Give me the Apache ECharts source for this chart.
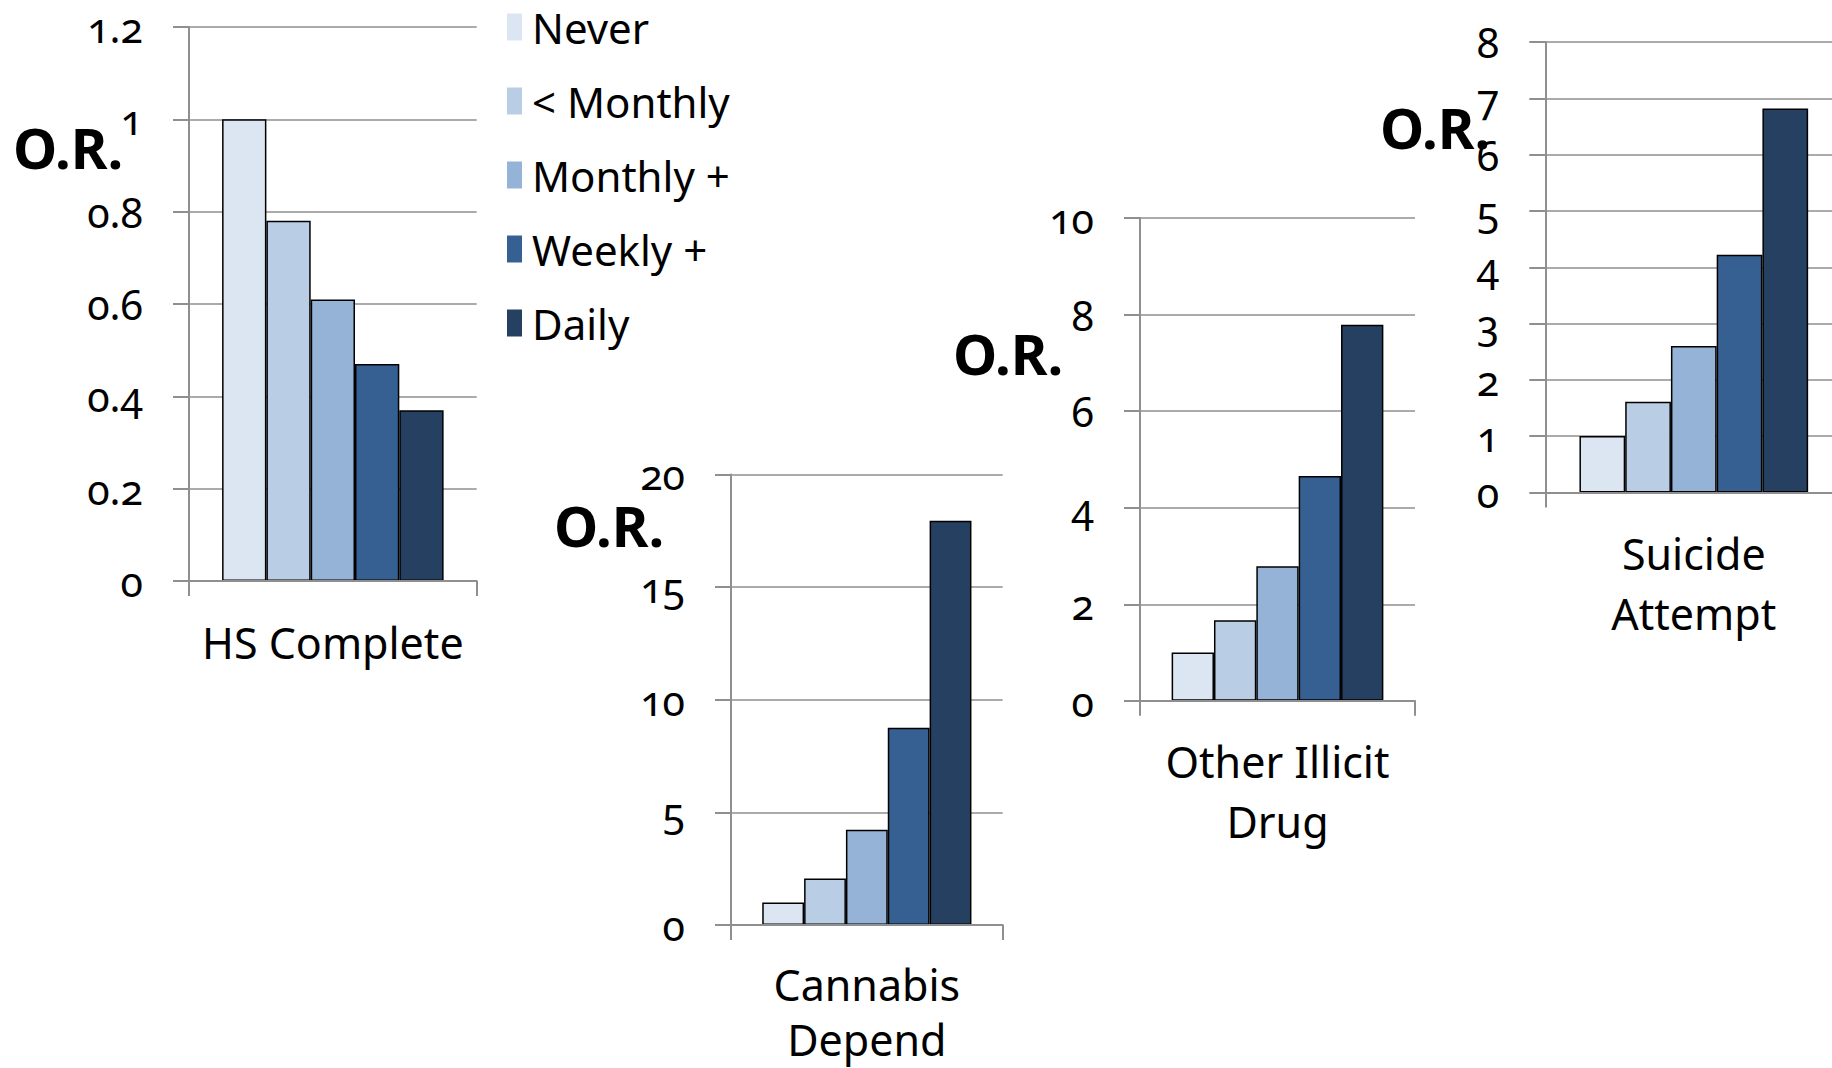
<!DOCTYPE html>
<html><head><meta charset="utf-8">
<script src="https://cdn.jsdelivr.net/npm/echarts@6/dist/echarts.min.js"></script>
<style>
html,body{margin:0;padding:0;background:#fff;}
#chart{width:1832px;height:1068px;}
#chart text{font-variant-numeric:oldstyle-nums !important;font-feature-settings:"onum" 1 !important;}
</style></head><body><div id="chart"></div>
<script>
// ---- data ----
const levels = ['Never', '< Monthly', 'Monthly +', 'Weekly +', 'Daily'];
const outcomes = ['HS Complete', 'Cannabis\nDepend', 'Other Illicit\nDrug', 'Suicide\nAttempt'];
const hsComplete = [1, 0.78, 0.61, 0.47, 0.37];
const cannabisDepend = [1, 2.06, 4.23, 8.75, 17.94];
const otherIllicitDrug = [1, 1.67, 2.79, 4.66, 7.79];
const suicideAttempt = [1, 1.61, 2.6, 4.22, 6.82];
const axisMax = [1.2, 20, 10, 8];
const axisStep = [0.2, 5, 2, 1];
const yTitle = 'O.R.';

// ---- style / layout ----
const FONT = '"Noto Sans", "Open Sans", sans-serif';
const colors = ['#DCE6F2', '#B9CDE5', '#95B3D7', '#376092', '#254061'];
const panelValues = [hsComplete, cannabisDepend, otherIllicitDrug, suicideAttempt];
const gridBoxes = [
  {left: 189, top: 26.9, width: 287.7, height: 554.2},
  {left: 731, top: 474.4, width: 271.7, height: 450.6},
  {left: 1140, top: 218.2, width: 275, height: 482.6},
  {left: 1545.3, top: 42.1, width: 297, height: 450.3}
];
const labelMargins = [31, 31.5, 31, 31];
const labelLineHeights = [60, 55, 60, 60];
const titlePos = [[13, 147], [554, 525], [953, 353], [1380, 127]];
const GRID_COLOR = '#8f8f8f';

const chart = echarts.init(document.getElementById('chart'), null, {renderer: 'svg'});

const grid = gridBoxes.map(b => Object.assign({containLabel: false, outerBoundsMode: 'none'}, b));
const xAxis = outcomes.map((o, p) => ({
  type: 'category', gridIndex: p, data: [o], z: 3,
  axisLine: {show: true, lineStyle: {color: GRID_COLOR, width: 2}},
  axisTick: {show: true, length: 15, interval: 0, lineStyle: {color: GRID_COLOR, width: 2}},
  axisLabel: {fontSize: 43, lineHeight: labelLineHeights[p], fontFamily: FONT, color: '#000', margin: labelMargins[p], interval: 0}
}));
const yAxis = axisMax.map((m, p) => ({
  type: 'value', gridIndex: p, min: 0, max: m, interval: axisStep[p],
  axisLine: {show: true, lineStyle: {color: GRID_COLOR, width: 2}},
  axisTick: {show: true, length: 16, lineStyle: {color: GRID_COLOR, width: 2}},
  splitLine: {show: true, lineStyle: {color: GRID_COLOR, width: 1.5}},
  axisLabel: {fontSize: 41, fontFamily: FONT, color: '#000', margin: 46}
}));
const series = [];
panelValues.forEach((vals, p) => {
  vals.forEach((v, i) => {
    series.push({
      type: 'bar', name: levels[i], xAxisIndex: p, yAxisIndex: p,
      data: [v], barGap: '0%', barCategoryGap: '23%',
      itemStyle: {color: colors[i], borderColor: '#000', borderWidth: 1.5},
      emphasis: {disabled: true}
    });
  });
});

chart.setOption({
  animation: false,
  backgroundColor: '#fff',
  grid, xAxis, yAxis, series,
  legend: {
    data: levels, orient: 'vertical', left: 507, top: 2, padding: 0,
    icon: 'rect', itemWidth: 15, itemHeight: 27, itemGap: 24, selectedMode: false,
    itemStyle: {borderWidth: 0},
    textStyle: {fontSize: 42, lineHeight: 40, fontFamily: FONT, color: '#000', padding: [0, 0, 10, 5]}
  },
  graphic: titlePos.map(([x, y]) => ({
    type: 'text', x: x, y: y, silent: true,
    style: {text: yTitle, font: 'bold 56px ' + FONT, fill: '#000', align: 'left', verticalAlign: 'middle'}
  }))
});
</script></body></html>
